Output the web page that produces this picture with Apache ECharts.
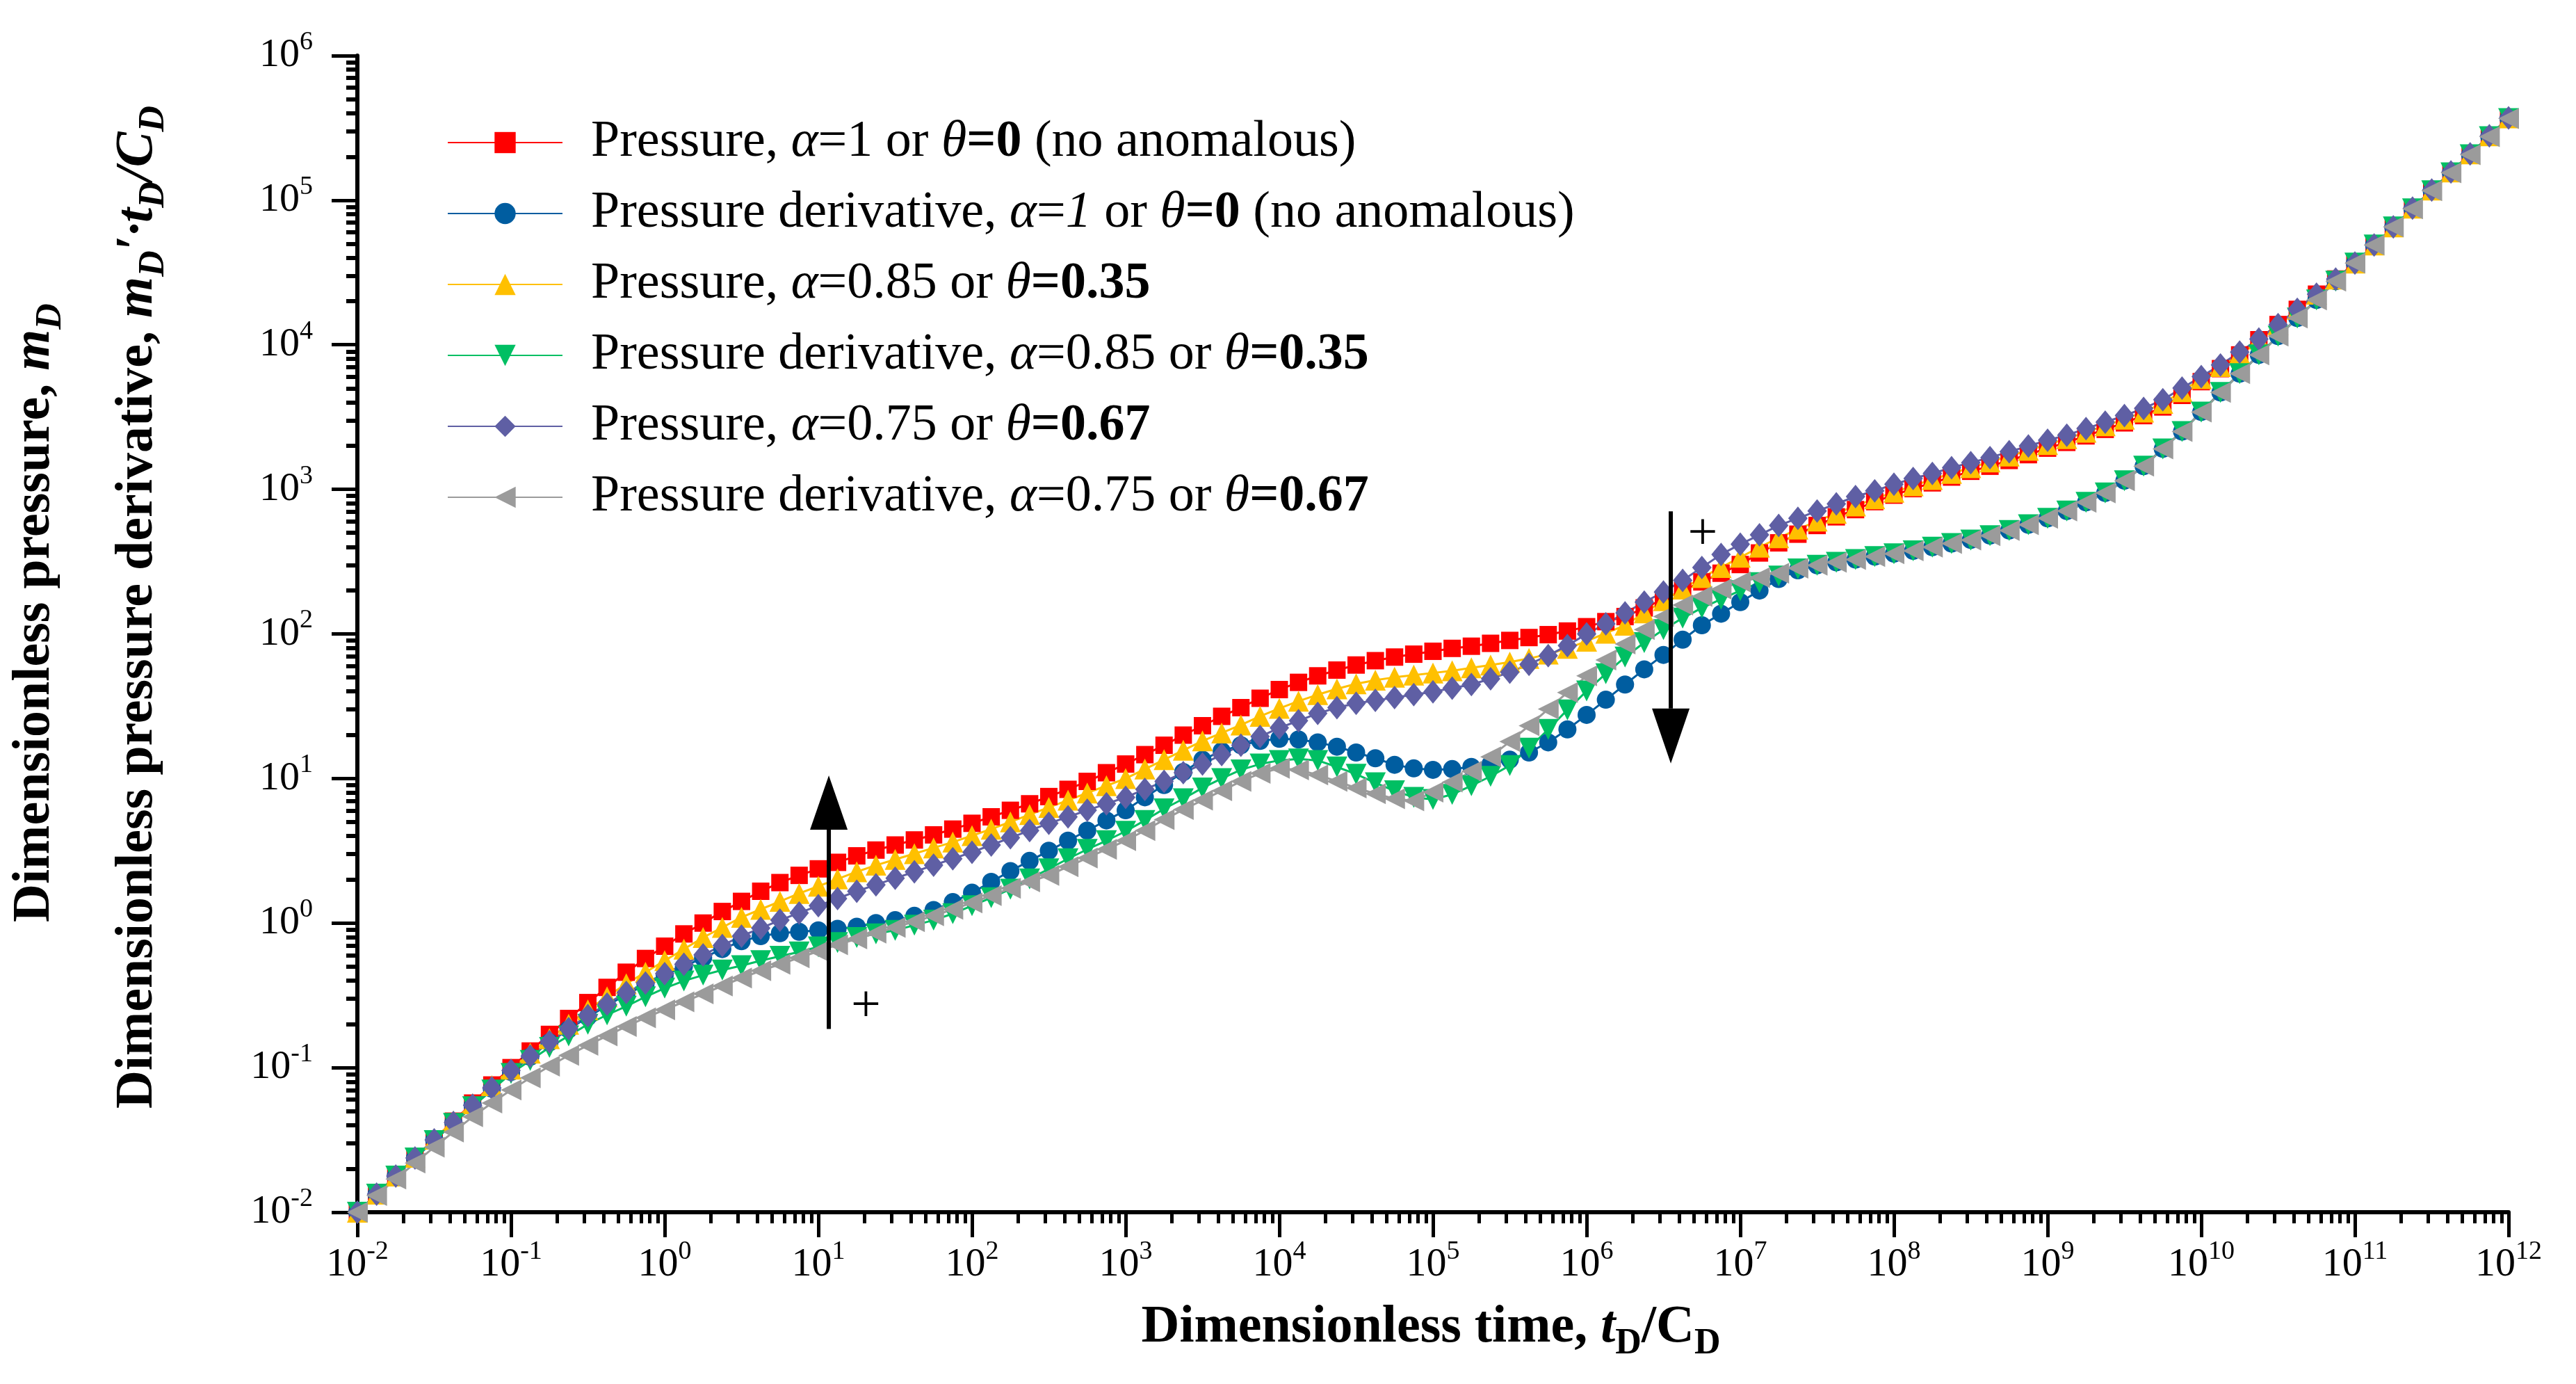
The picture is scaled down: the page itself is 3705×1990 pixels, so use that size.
<!DOCTYPE html>
<html>
<head>
<meta charset="utf-8">
<title>Dimensionless pressure and derivative</title>
<script src="https://cdn.jsdelivr.net/npm/echarts@6/dist/echarts.min.js"></script>
<style>
  html, body { margin: 0; padding: 0; background: #fff; }
  #chart { width: 3705px; height: 1990px; }
</style>
</head>
<body>
<div id="chart"></div>
<script>
// log10 of dimensionless time tD/CD for every plotted point
const tExp = [
  -2, -1.875, -1.75, -1.625, -1.5, -1.375, -1.25, -1.125,
  -1, -0.875, -0.75, -0.625, -0.5, -0.375, -0.25, -0.125,
  0, 0.125, 0.25, 0.375, 0.5, 0.625, 0.75, 0.875,
  1, 1.125, 1.25, 1.375, 1.5, 1.625, 1.75, 1.875,
  2, 2.125, 2.25, 2.375, 2.5, 2.625, 2.75, 2.875,
  3, 3.125, 3.25, 3.375, 3.5, 3.625, 3.75, 3.875,
  4, 4.125, 4.25, 4.375, 4.5, 4.625, 4.75, 4.875,
  5, 5.125, 5.25, 5.375, 5.5, 5.625, 5.75, 5.875,
  6, 6.125, 6.25, 6.375, 6.5, 6.625, 6.75, 6.875,
  7, 7.125, 7.25, 7.375, 7.5, 7.625, 7.75, 7.875,
  8, 8.125, 8.25, 8.375, 8.5, 8.625, 8.75, 8.875,
  9, 9.125, 9.25, 9.375, 9.5, 9.625, 9.75, 9.875,
  10, 10.125, 10.25, 10.375, 10.5, 10.625, 10.75, 10.875,
  11, 11.125, 11.25, 11.375, 11.5, 11.625, 11.75, 11.875,
  12
];

// log10 of the curves
const pressure100 = [
  -2.00, -1.875, -1.75, -1.62, -1.495, -1.37, -1.245, -1.12,
  -1.0, -0.885, -0.77, -0.66, -0.55, -0.445, -0.34, -0.245,
  -0.16, -0.075, 0.0, 0.08, 0.15, 0.22, 0.28, 0.33,
  0.375, 0.42, 0.465, 0.505, 0.54, 0.575, 0.61, 0.65,
  0.69, 0.735, 0.78, 0.825, 0.875, 0.925, 0.98, 1.04,
  1.10, 1.165, 1.23, 1.30, 1.365, 1.43, 1.49, 1.555,
  1.615, 1.665, 1.71, 1.75, 1.785, 1.815, 1.84, 1.86,
  1.88, 1.90, 1.915, 1.935, 1.955, 1.975, 1.995, 2.02,
  2.05, 2.085, 2.12, 2.18, 2.24, 2.30, 2.36, 2.42,
  2.48, 2.56, 2.63, 2.69, 2.75, 2.81, 2.86, 2.915,
  2.96, 3.005, 3.045, 3.085, 3.125, 3.16, 3.20, 3.24,
  3.285, 3.325, 3.37, 3.415, 3.46, 3.51, 3.57, 3.65,
  3.745, 3.835, 3.93, 4.035, 4.14, 4.245, 4.35, 4.455,
  4.565, 4.69, 4.815, 4.945, 5.07, 5.195, 5.32, 5.445,
  5.57
];
const derivative100 = [
  -2.00, -1.875, -1.75, -1.625, -1.50, -1.38, -1.26, -1.145,
  -1.03, -0.925, -0.825, -0.735, -0.65, -0.57, -0.495, -0.425,
  -0.36, -0.30, -0.24, -0.18, -0.125, -0.09, -0.07, -0.06,
  -0.05, -0.04, -0.025, 0.0, 0.02, 0.05, 0.09, 0.145,
  0.21, 0.285, 0.36, 0.43, 0.50, 0.57, 0.64, 0.71,
  0.78, 0.87, 0.955, 1.045, 1.13, 1.19, 1.23, 1.26,
  1.275, 1.27, 1.25, 1.22, 1.18, 1.14, 1.095, 1.07,
  1.06, 1.065, 1.08, 1.10, 1.13, 1.18, 1.25, 1.34,
  1.44, 1.545, 1.65, 1.755, 1.855, 1.96, 2.06, 2.14,
  2.22, 2.30, 2.38, 2.44, 2.475, 2.495, 2.515, 2.535,
  2.555, 2.575, 2.60, 2.625, 2.65, 2.68, 2.715, 2.755,
  2.80, 2.85, 2.91, 2.975, 3.06, 3.16, 3.28, 3.40,
  3.535, 3.67, 3.80, 3.93, 4.06, 4.185, 4.31, 4.44,
  4.565, 4.69, 4.815, 4.94, 5.065, 5.19, 5.315, 5.44,
  5.565
];
const pressure085 = [
  -2.00, -1.875, -1.75, -1.62, -1.495, -1.37, -1.25, -1.125,
  -1.01, -0.90, -0.80, -0.70, -0.60, -0.51, -0.42, -0.34,
  -0.26, -0.18, -0.10, -0.03, 0.04, 0.095, 0.15, 0.205,
  0.255, 0.305, 0.355, 0.40, 0.44, 0.48, 0.52, 0.56,
  0.605, 0.65, 0.70, 0.75, 0.80, 0.85, 0.90, 0.95,
  1.00, 1.065, 1.13, 1.195, 1.26, 1.315, 1.37, 1.43,
  1.485, 1.535, 1.58, 1.62, 1.655, 1.68, 1.70, 1.715,
  1.73, 1.745, 1.765, 1.785, 1.805, 1.83, 1.86, 1.90,
  1.95, 2.005, 2.06, 2.145, 2.23, 2.31, 2.39, 2.46,
  2.53, 2.60, 2.665, 2.725, 2.78, 2.835, 2.885, 2.935,
  2.98, 3.025, 3.068, 3.11, 3.15, 3.19, 3.23, 3.27,
  3.31, 3.35, 3.395, 3.44, 3.485, 3.535, 3.595, 3.675,
  3.765, 3.85, 3.94, 4.04, 4.14, 4.245, 4.35, 4.455,
  4.565, 4.69, 4.815, 4.945, 5.07, 5.195, 5.32, 5.445,
  5.57
];
const derivative085 = [
  -2.00, -1.875, -1.75, -1.625, -1.505, -1.385, -1.27, -1.155,
  -1.04, -0.95, -0.86, -0.78, -0.70, -0.635, -0.575, -0.51,
  -0.45, -0.40, -0.36, -0.325, -0.295, -0.26, -0.23, -0.20,
  -0.165, -0.135, -0.10, -0.075, -0.05, -0.015, 0.02, 0.065,
  0.12, 0.175, 0.235, 0.305, 0.375, 0.445, 0.51, 0.57,
  0.635, 0.71, 0.79, 0.86, 0.935, 1.00, 1.06, 1.10,
  1.125, 1.135, 1.125, 1.08, 1.03, 0.97, 0.915, 0.87,
  0.855, 0.89, 0.95, 1.015, 1.09, 1.21, 1.34, 1.475,
  1.605, 1.725, 1.84, 1.94, 2.03, 2.11, 2.18, 2.24,
  2.30, 2.355, 2.40, 2.45, 2.475, 2.495, 2.515, 2.535,
  2.555, 2.575, 2.60, 2.625, 2.65, 2.68, 2.715, 2.755,
  2.80, 2.85, 2.91, 2.975, 3.06, 3.16, 3.28, 3.40,
  3.535, 3.67, 3.80, 3.93, 4.06, 4.185, 4.31, 4.44,
  4.565, 4.69, 4.815, 4.94, 5.065, 5.19, 5.315, 5.44,
  5.565
];
const pressure075 = [
  -2.00, -1.875, -1.75, -1.625, -1.50, -1.38, -1.26, -1.14,
  -1.02, -0.92, -0.82, -0.73, -0.64, -0.56, -0.48, -0.415,
  -0.35, -0.285, -0.22, -0.155, -0.09, -0.035, 0.02, 0.07,
  0.12, 0.17, 0.22, 0.265, 0.31, 0.355, 0.40, 0.445,
  0.49, 0.54, 0.59, 0.64, 0.69, 0.735, 0.78, 0.825,
  0.87, 0.925, 0.98, 1.04, 1.10, 1.165, 1.23, 1.29,
  1.35, 1.40, 1.45, 1.49, 1.52, 1.54, 1.56, 1.58,
  1.60, 1.625, 1.65, 1.69, 1.735, 1.79, 1.85, 1.92,
  2.00, 2.07, 2.145, 2.22, 2.29, 2.37, 2.46, 2.55,
  2.62, 2.685, 2.75, 2.80, 2.85, 2.90, 2.95, 2.99,
  3.035, 3.075, 3.11, 3.15, 3.185, 3.22, 3.26, 3.30,
  3.34, 3.375, 3.42, 3.465, 3.51, 3.56, 3.62, 3.70,
  3.78, 3.86, 3.95, 4.04, 4.14, 4.245, 4.35, 4.455,
  4.565, 4.69, 4.815, 4.945, 5.07, 5.195, 5.32, 5.445,
  5.57
];
const derivative075 = [
  -2.00, -1.885, -1.77, -1.66, -1.55, -1.445, -1.34, -1.245,
  -1.155, -1.07, -0.99, -0.915, -0.845, -0.78, -0.715, -0.655,
  -0.60, -0.545, -0.49, -0.435, -0.38, -0.33, -0.285, -0.24,
  -0.195, -0.15, -0.11, -0.07, -0.03, 0.01, 0.05, 0.095,
  0.14, 0.19, 0.24, 0.285, 0.33, 0.39, 0.45, 0.51,
  0.57, 0.64, 0.715, 0.785, 0.85, 0.915, 0.98, 1.035,
  1.07, 1.06, 1.025, 0.98, 0.935, 0.895, 0.86, 0.845,
  0.905, 0.975, 1.05, 1.15, 1.255, 1.365, 1.48, 1.595,
  1.71, 1.82, 1.93, 2.03, 2.12, 2.20, 2.26, 2.31,
  2.36, 2.39, 2.42, 2.455, 2.475, 2.495, 2.515, 2.535,
  2.555, 2.575, 2.60, 2.625, 2.65, 2.68, 2.715, 2.755,
  2.80, 2.85, 2.91, 2.975, 3.06, 3.16, 3.28, 3.40,
  3.535, 3.67, 3.80, 3.93, 4.06, 4.185, 4.31, 4.44,
  4.565, 4.69, 4.815, 4.94, 5.065, 5.19, 5.315, 5.44,
  5.565
];

const xTicks = [1e-2, 1e-1, 1e0, 1e1, 1e2, 1e3, 1e4, 1e5, 1e6, 1e7, 1e8, 1e9, 1e10, 1e11, 1e12];
const yTicks = [1e-2, 1e-1, 1e0, 1e1, 1e2, 1e3, 1e4, 1e5, 1e6];

// annotation arrows (tD/CD, start, head base, tip) and "+" marks
const arrowT = [11.7, 3.53e6];
const arrowFrom = [0.185, 705];
const arrowBase = [4.43, 30.5];
const arrowTip = [10.5, 12.7];
const plusT = [20.4, 5.69e6];
const plusY = [0.263, 486];

const F = 'Liberation Serif';

function minorsOf(ticks) {
  const out = [];
  for (let i = 0; i < ticks.length - 1; i++) {
    for (let m = 2; m <= 9; m++) out.push(ticks[i] * m);
  }
  return out;
}

function toPts(ys) {
  return tExp.map((e, i) => [Math.pow(10, e), Math.pow(10, ys[i])]);
}

function powLabel(v) {
  const e = Math.round(Math.log10(v));
  return '{b|10}{s|' + e + '}';
}

const tickRich = {
  b: { fontFamily: F, fontSize: 58, lineHeight: 76, verticalAlign: 'middle', color: '#000' },
  s: { fontFamily: F, fontSize: 38, lineHeight: 40, verticalAlign: 'top', color: '#000' }
};

const legendNames = {
  p100: 'Pressure, {i|α}=1 or {i|θ}{b|=0} (no anomalous)',
  d100: 'Pressure derivative, {i|α}={i|1} or {i|θ}{b|=0} (no anomalous)',
  p085: 'Pressure, {i|α}=0.85 or {i|θ}{b|=0.35}',
  d085: 'Pressure derivative, {i|α}=0.85 or {i|θ}{b|=0.35}',
  p075: 'Pressure, {i|α}=0.75 or {i|θ}{b|=0.67}',
  d075: 'Pressure derivative, {i|α}=0.75 or {i|θ}{b|=0.67}'
};

function mkSeries(name, ys, color, symbol, size, rotate) {
  return {
    name: name,
    type: 'line',
    data: toPts(ys),
    symbol: symbol,
    symbolSize: size,
    symbolRotate: rotate || 0,
    showSymbol: true,
    itemStyle: { color: color },
    lineStyle: { color: color, width: 3 },
    emphasis: { disabled: true }
  };
}

const chart = echarts.init(document.getElementById('chart'));

const option = {
  animation: false,
  backgroundColor: '#fff',
  grid: { left: 514, right: 97, top: 80, bottom: 247 },
  legend: {
    orient: 'vertical',
    left: 638,
    top: 163,
    itemWidth: 165,
    itemHeight: 38,
    itemGap: 28,
    selectedMode: false,
    formatter: function (name) { return legendNames[name]; },
    textStyle: {
      fontFamily: F, fontSize: 74, color: '#000', lineHeight: 72,
      padding: [0, 0, 0, 36],
      rich: {
        i: { fontFamily: F, fontSize: 74, fontStyle: 'italic', lineHeight: 72, color: '#000' },
        b: { fontFamily: F, fontSize: 74, fontWeight: 'bold', lineHeight: 72, color: '#000' }
      }
    },
    data: ['p100', 'd100', 'p085', 'd085', 'p075', 'd075']
  },
  xAxis: [
    {
      type: 'log', logBase: 10, min: 1e-2, max: 1e12,
      axisLine: { show: true, lineStyle: { color: '#000', width: 6 } },
      axisTick: { show: true, customValues: xTicks, length: 36, lineStyle: { color: '#000', width: 5 } },
      axisLabel: { customValues: xTicks, margin: 38, formatter: powLabel, rich: tickRich },
      splitLine: { show: false },
      minorTick: { show: false }
    },
    {
      type: 'log', logBase: 10, min: 1e-2, max: 1e12, position: 'bottom',
      axisLine: { show: false },
      axisTick: { show: true, customValues: minorsOf(xTicks), length: 16, lineStyle: { color: '#000', width: 5 } },
      axisLabel: { show: false },
      splitLine: { show: false }
    }
  ],
  yAxis: [
    {
      type: 'log', logBase: 10, min: 1e-2, max: 1e6,
      axisLine: { show: true, lineStyle: { color: '#000', width: 6 } },
      axisTick: { show: true, customValues: yTicks, length: 37, lineStyle: { color: '#000', width: 5 } },
      axisLabel: { customValues: yTicks, margin: 64, formatter: powLabel, rich: tickRich },
      splitLine: { show: false },
      minorTick: { show: false }
    },
    {
      type: 'log', logBase: 10, min: 1e-2, max: 1e6, position: 'left',
      axisLine: { show: false },
      axisTick: { show: true, customValues: minorsOf(yTicks), length: 16, lineStyle: { color: '#000', width: 6 } },
      axisLabel: { show: false },
      splitLine: { show: false }
    }
  ],
  series: [
    mkSeries('p100', pressure100, '#FF0000', 'rect', 25),
    mkSeries('d100', derivative100, '#005DA0', 'circle', 26),
    mkSeries('p085', pressure085, '#FFC000', 'triangle', 30),
    mkSeries('d085', derivative085, '#00BF63', 'triangle', 30, 180),
    mkSeries('p075', pressure075, '#5F5FA4', 'diamond', [28, 34]),
    mkSeries('d075', derivative075, '#9B9B9B', 'triangle', 30, 90)
  ]
};

chart.setOption(option);

const titleRich = {
  b: { fontFamily: F, fontSize: 76, fontWeight: 'bold', lineHeight: 100, verticalAlign: 'middle', fill: '#000' },
  bi: { fontFamily: F, fontSize: 76, fontWeight: 'bold', fontStyle: 'italic', lineHeight: 100, verticalAlign: 'middle', fill: '#000' },
  sub: { fontFamily: F, fontSize: 52, fontWeight: 'bold', lineHeight: 50, verticalAlign: 'bottom', fill: '#000' },
  subi: { fontFamily: F, fontSize: 52, fontWeight: 'bold', fontStyle: 'italic', lineHeight: 50, verticalAlign: 'bottom', fill: '#000' }
};

function px(t, v) {
  return chart.convertToPixel({ xAxisIndex: 0, yAxisIndex: 0 }, [t, v]);
}

const graphics = [];
for (let i = 0; i < arrowT.length; i++) {
  const a = px(arrowT[i], arrowFrom[i]);
  const b = px(arrowT[i], arrowBase[i]);
  const c = px(arrowT[i], arrowTip[i]);
  graphics.push({
    type: 'line', z: 100,
    shape: { x1: a[0], y1: a[1], x2: b[0], y2: b[1] },
    style: { stroke: '#000', lineWidth: 6 }
  });
  graphics.push({
    type: 'polygon', z: 100,
    shape: { points: [[b[0] - 27, b[1]], [b[0] + 27, b[1]], [c[0], c[1]]] },
    style: { fill: '#000' }
  });
}
for (let i = 0; i < plusT.length; i++) {
  const p = px(plusT[i], plusY[i]);
  graphics.push({
    type: 'text', z: 100, x: p[0], y: p[1],
    style: { text: '+', font: '76px "Liberation Serif"', fill: '#000', align: 'center', verticalAlign: 'middle' }
  });
}
graphics.push({
  type: 'text', x: 2058, y: 1909,
  style: {
    text: '{b|Dimensionless time, }{bi|t}{sub|D}{b|/C}{sub|D}',
    rich: titleRich, align: 'center', verticalAlign: 'middle'
  }
});
graphics.push({
  type: 'text', x: 50, y: 881, rotation: Math.PI / 2,
  style: {
    text: '{b|Dimensionless pressure, }{bi|m}{subi|D}',
    rich: titleRich, align: 'center', verticalAlign: 'middle'
  }
});
graphics.push({
  type: 'text', x: 198, y: 873, rotation: Math.PI / 2,
  style: {
    text: '{b|Dimensionless pressure derivative, }{bi|m}{subi|D}{bi|\u2032\u00B7t}{subi|D}{bi|/C}{subi|D}',
    rich: titleRich, align: 'center', verticalAlign: 'middle'
  }
});

chart.setOption({ graphic: graphics });
</script>
</body>
</html>
